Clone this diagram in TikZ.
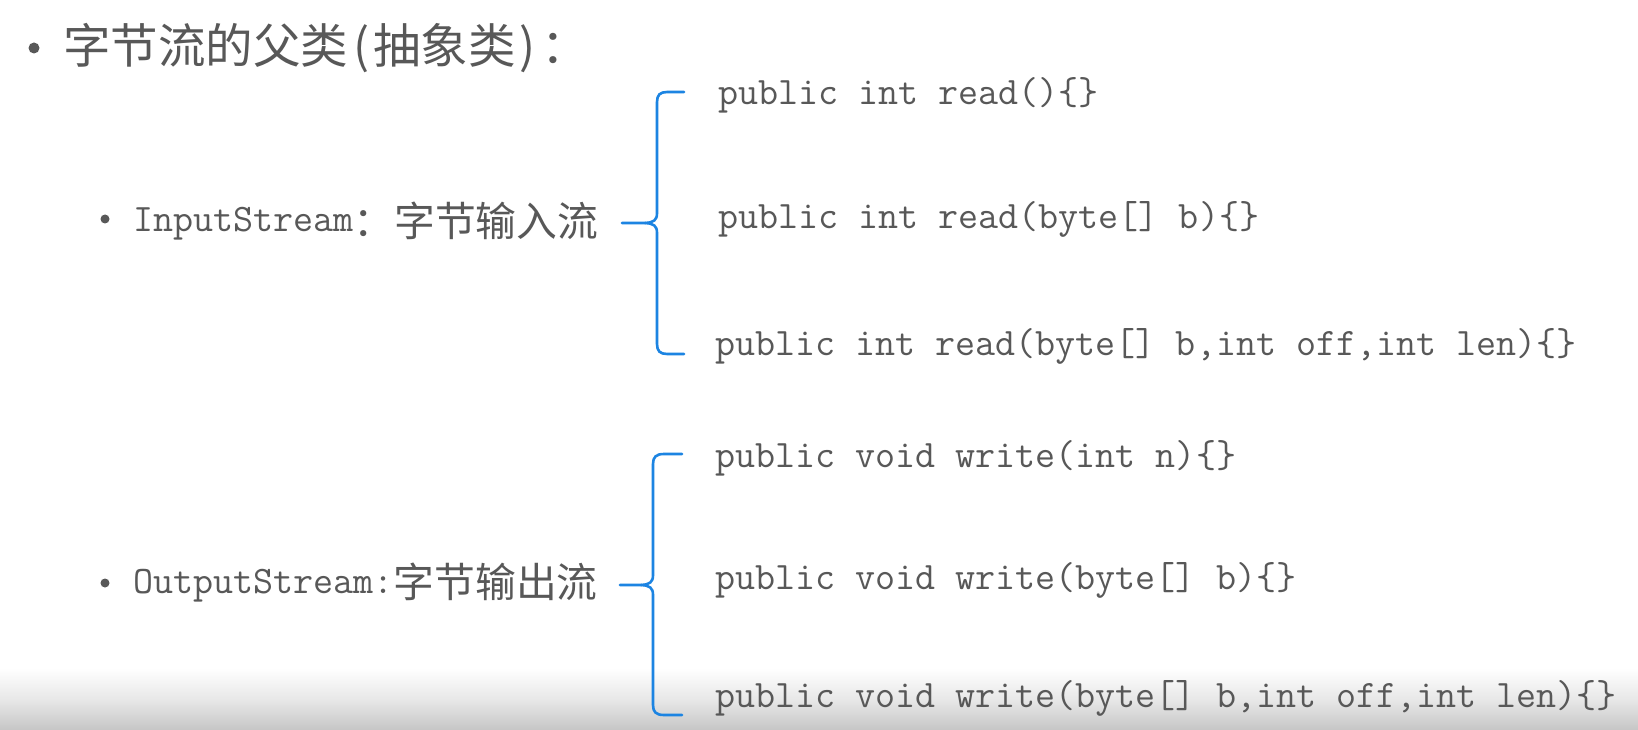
\documentclass[tikz,border=0pt]{standalone}
\usepackage{fontspec}
\newfontfamily\cjkf{Noto Sans CJK SC}
\definecolor{txt}{RGB}{88,88,88}
\definecolor{brc}{RGB}{28,132,226}
\definecolor{shade}{RGB}{198,198,198}
\newcommand\monof{\ttfamily\fontsize{38.9}{46}\selectfont}
\newcommand\cjkl[1]{\raisebox{-4.5pt}{\cjkf\fontsize{40.8}{48}\selectfont #1}}
\tikzset{
  code/.style={font=\monof, text=txt, inner sep=0pt, anchor=base west},
  lbl/.style={font=\monof, text=txt, inner sep=0pt, anchor=base west},
  ttl/.style={font=\cjkf\fontsize{47.5}{54}\selectfont, text=txt, inner sep=0pt, anchor=base west},
  dot/.style={circle, fill=txt, draw=none, inner sep=0pt, minimum size=#1},
  bracestyle/.style={draw=brc, line width=2.6pt, line cap=round, line join=round}
}
\begin{document}
\begin{tikzpicture}[x=1pt,y=-1pt]
\useasboundingbox (0,0) rectangle (1638,730);
\fill[white] (0,0) rectangle (1638,730);
\shade[top color=white, bottom color=shade, middle color={rgb,255:red,232;green,232;blue,232}] (0,668) rectangle (1638,730);

% title
\node[dot=11pt] (b0) at (34,48) {};
\node[ttl] (title) at (63,64) {字节流的父类\kern5pt(\kern4pt抽象类\kern4pt)\kern6pt：};

% labels
\node[dot=9pt] (b1) at (105,219) {};
\node[lbl] (in) at (133,232) {InputStream\cjkl{：字节输入流}};
\node[dot=9pt] (b2) at (105,583) {};
\node[lbl] (out) at (133,593) {OutputStream:\cjkl{字节输出流}};

% code lines
\node[code] (r1) at (718,105) {public int read()\{\}};
\node[code] (r2) at (718,229) {public int read(byte[] b)\{\}};
\node[code] (r3) at (715,355) {public int read(byte[] b,int off,int len)\{\}};
\node[code] (w1) at (715,467) {public void write(int n)\{\}};
\node[code] (w2) at (715,589) {public void write(byte[] b)\{\}};
\node[code] (w3) at (715,707) {public void write(byte[] b,int off,int len)\{\}};

% braces
\coordinate (ta) at (684,92);
\coordinate (tb) at (684,354);
\coordinate (tt) at (622,223);
\draw[bracestyle] (ta) -- (667,92) .. controls (660,92) and (657,95) .. (657,102)
  -- (657,213) .. controls (657,220) and (654,222.5) .. (645,223) -- (tt);
\draw[bracestyle] (645,223) .. controls (654,223.5) and (657,226) .. (657,233)
  -- (657,344) .. controls (657,351) and (660,354) .. (667,354) -- (tb);

\coordinate (ba) at (682,454);
\coordinate (bb) at (682,715);
\coordinate (bt) at (620,585);
\draw[bracestyle] (ba) -- (664,454) .. controls (656,454) and (653,457) .. (653,464)
  -- (653,575) .. controls (653,582) and (650,584.5) .. (641,585) -- (bt);
\draw[bracestyle] (641,585) .. controls (650,585.5) and (653,588) .. (653,595)
  -- (653,705) .. controls (653,712) and (656,715) .. (664,715) -- (bb);
\end{tikzpicture}
\end{document}
